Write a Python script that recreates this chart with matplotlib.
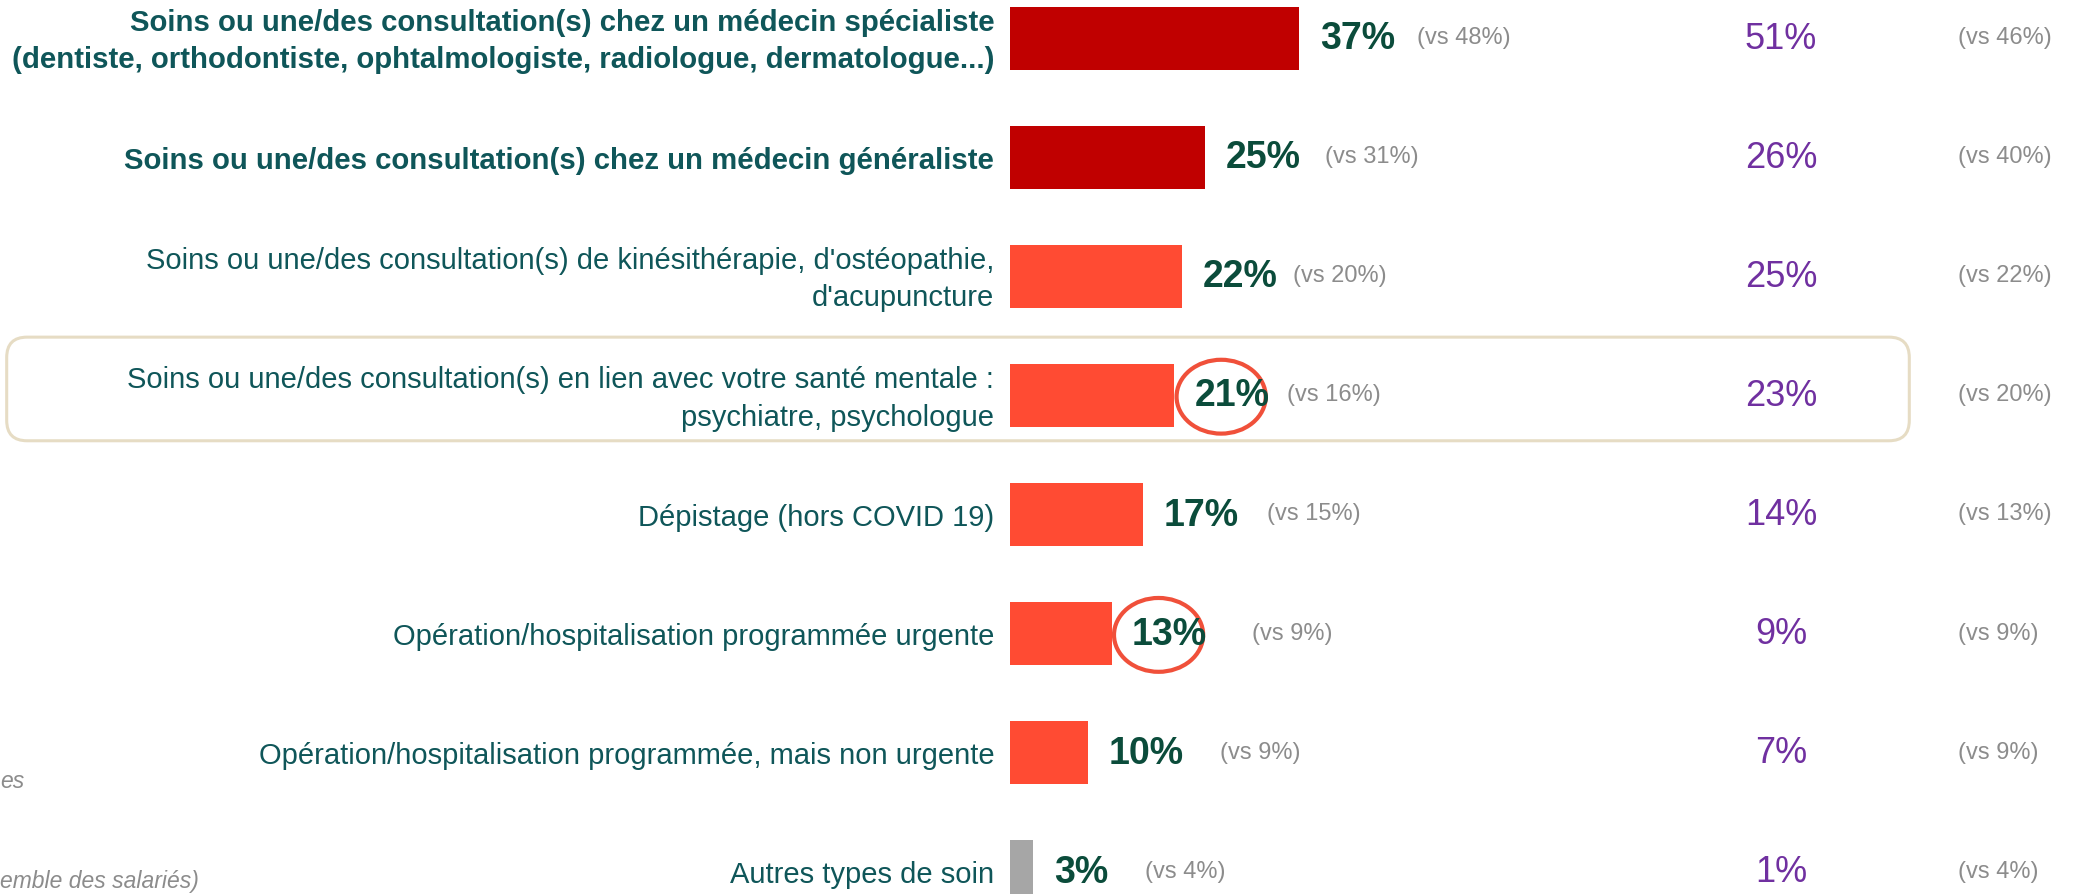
import matplotlib.pyplot as plt
from matplotlib.patches import FancyBboxPatch, Ellipse

plt.rcParams['font.family'] = ['Liberation Sans', 'DejaVu Sans']

categories = [
    "Soins ou une/des consultation(s) chez un médecin spécialiste\n(dentiste, orthodontiste, ophtalmologiste, radiologue, dermatologue...)",
    "Soins ou une/des consultation(s) chez un médecin généraliste",
    "Soins ou une/des consultation(s) de kinésithérapie, d'ostéopathie,\nd'acupuncture",
    "Soins ou une/des consultation(s) en lien avec votre santé mentale :\npsychiatre, psychologue",
    "Dépistage (hors COVID 19)",
    "Opération/hospitalisation programmée urgente",
    "Opération/hospitalisation programmée, mais non urgente",
    "Autres types de soin",
]
values = [37, 25, 22, 21, 17, 13, 10, 3]
values_prev = [48, 31, 20, 16, 15, 9, 9, 4]
other = [51, 26, 25, 23, 14, 9, 7, 1]
other_prev = [46, 40, 22, 20, 13, 9, 9, 4]
bold_rows = [0, 1]
circled_rows = [3, 5]
highlight_row = 3

dark_red = "#c00000"
orange_red = "#ff4b33"
grey_bar = "#a6a6a6"
bar_colors = [dark_red, dark_red] + [orange_red] * 5 + [grey_bar]
label_col = "#0f5659"
value_col = "#0b4c3b"
purple = "#7030a0"
grey_txt = "#8c8c8c"

# gap between bar end and "(vs ..)" label, in % units
vs_gap = [15.1, 15.3, 14.2, 14.4, 15.9, 18.0, 16.8, 14.2]

W, H = 2079, 895
fig = plt.figure(figsize=(W / 100, H / 100), dpi=100)
ax = fig.add_axes([0, 0, 1, 1])

px_per_unit_x = 7.82
x0_px = 1010
row0_px = 39.2
row_px = 119.1
ax.set_xlim(-x0_px / px_per_unit_x, (W - x0_px) / px_per_unit_x)
ax.set_ylim((H - row0_px) / row_px, -row0_px / row_px)
ax.axis("off")

y = list(range(len(values)))
ax.barh(y, values, height=0.53, color=bar_colors, left=0)

# highlight box around the mental-health row
asp = px_per_unit_x / row_px
box = FancyBboxPatch((-128.3, highlight_row - 0.49), 243.3, 0.87,
                     boxstyle="round,pad=0,rounding_size=2.6",
                     mutation_aspect=asp, fill=False,
                     edgecolor="#e6dcc4", linewidth=2.2, zorder=0)
ax.add_patch(box)

for i, cat in enumerate(categories):
    w = "bold" if i in bold_rows else "normal"
    fs = 21.15 if i in bold_rows else 21
    ax.text(-2.0, i + 0.02, cat, ha="right", va="center", fontsize=fs,
            color=label_col, fontweight=w, multialignment="right",
            linespacing=1.42)
    ax.text(values[i] + 2.6, i, f"{values[i]}%", ha="left", va="center",
            fontsize=27, fontweight="bold", color=value_col)
    ax.text(values[i] + vs_gap[i], i - 0.01, f"(vs {values_prev[i]}%)",
            ha="left", va="center", fontsize=17, color=grey_txt)
    ax.text(98.6, i, f"{other[i]}%", ha="center", va="center",
            fontsize=26, color=purple)
    ax.text(121.2, i - 0.01, f"(vs {other_prev[i]}%)", ha="left",
            va="center", fontsize=17, color=grey_txt)

for i in circled_rows:
    ax.add_patch(Ellipse((values[i] + 6.0, i + 0.01), 11.4, 0.62, fill=False,
                         edgecolor="#f0503a", linewidth=3))

fig.text(0.0, 1 - 782 / H, "es", ha="left", va="center", fontsize=16.5,
         style="italic", color=grey_txt)
fig.text(0.0, 1 - 882 / H, "emble des salariés)", ha="left", va="center",
         fontsize=16.5, style="italic", color=grey_txt)

fig.savefig("out.png", dpi=100)
